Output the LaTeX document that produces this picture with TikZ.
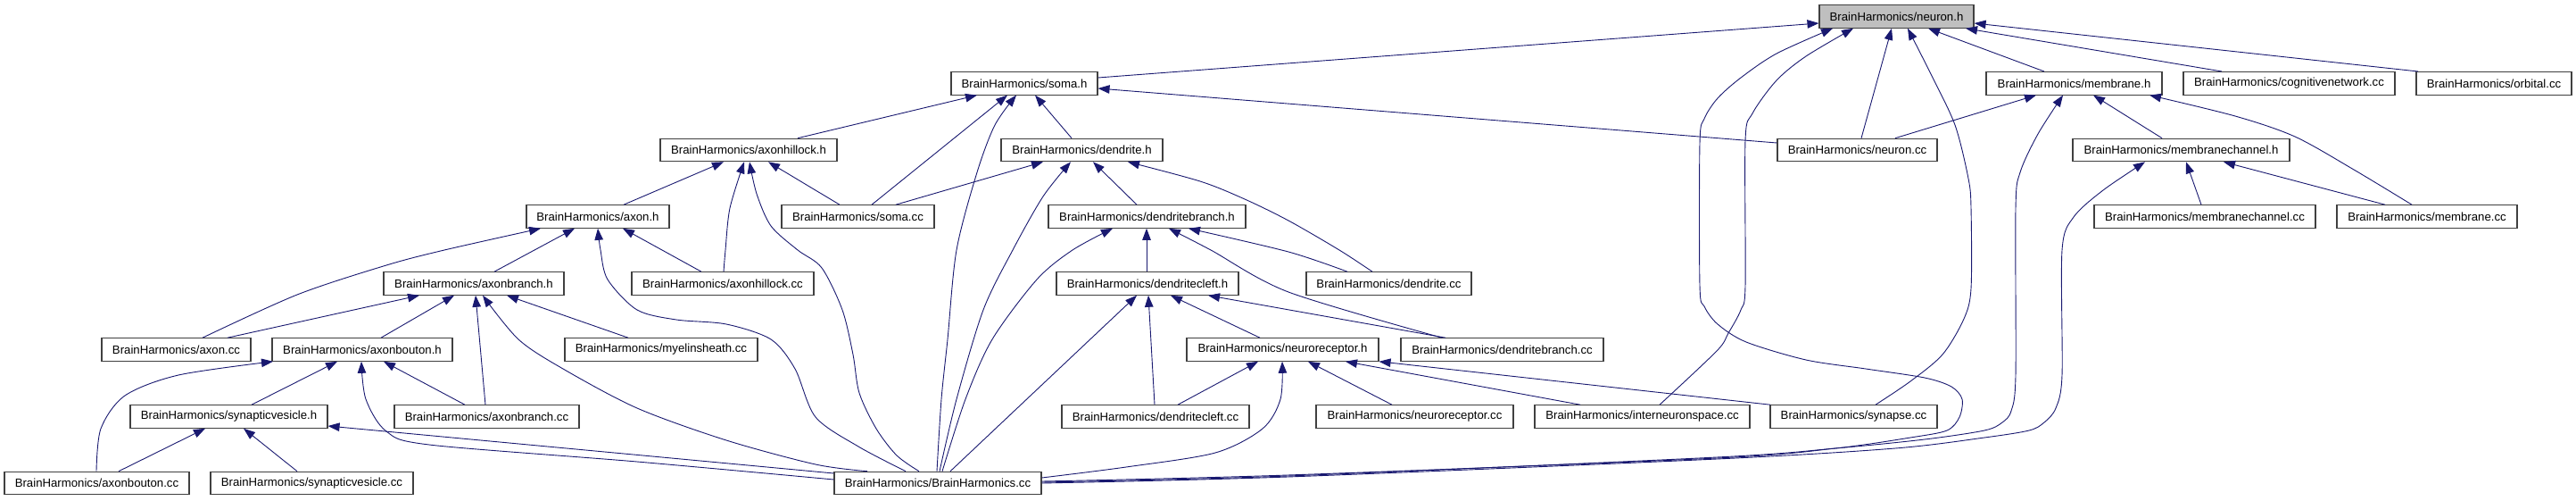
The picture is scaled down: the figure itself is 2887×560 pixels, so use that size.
\documentclass[tikz,border=0pt]{standalone}
\usepackage{fontspec}
\setmainfont{Liberation Sans}
\usetikzlibrary{arrows.meta}
\definecolor{edgec}{HTML}{191970}
\definecolor{boxc}{HTML}{404040}
\definecolor{greyf}{HTML}{BFBFBF}
\newcommand\mkbox[5]{\node[box,minimum width={(#3-#2)*1pt}] (#1) at ({(#2+#3)/2},#4) {BrainHarmonics/#5};}
\begin{document}
\begin{tikzpicture}[x=1pt,y=-1pt,
  box/.style={draw=boxc, line width=1.1pt, fill=white, minimum height=25.5pt, inner sep=0pt,
    font=\fontsize{13.2}{15}\selectfont},
  edge/.style={draw=edgec, line width=0.9pt, -{Triangle[length=13pt,width=9.5pt]}},
  sm/.style={smooth, tension=0.5}]
\useasboundingbox (0,0) rectangle (2887,560);
% row 0
\node[box, fill=greyf, minimum width=173pt] (neuronh) at (2125.5,18.5) {BrainHarmonics/neuron.h};
% row 1
\mkbox{somah}{1066}{1230}{93.3}{soma.h}
\mkbox{membraneh}{2226}{2423}{93.3}{membrane.h}
\mkbox{cognitivecc}{2447}{2684}{93.3}{cognitivenetwork.cc}
\mkbox{orbitalcc}{2708}{2882}{93.3}{orbital.cc}
% row 2
\mkbox{axonhillockh}{740}{938}{168}{axonhillock.h}
\mkbox{dendriteh}{1122}{1303}{168}{dendrite.h}
\mkbox{neuroncc}{1992}{2171}{168}{neuron.cc}
\mkbox{membranechannelh}{2323}{2566}{168}{membranechannel.h}
% row 3
\mkbox{axonh}{590}{750}{242.5}{axon.h}
\mkbox{somacc}{876}{1047}{242.5}{soma.cc}
\mkbox{dendritebranchh}{1175}{1396}{242.5}{dendritebranch.h}
\mkbox{membranechannelcc}{2347}{2595}{242.5}{membranechannel.cc}
\mkbox{membranecc}{2619}{2821}{242.5}{membrane.cc}
% row 4
\mkbox{axonbranchh}{430}{632}{317.5}{axonbranch.h}
\mkbox{axonhillockcc}{708}{912}{317.5}{axonhillock.cc}
\mkbox{dendritecleft}{1184}{1388}{317.5}{dendritecleft.h}
\mkbox{dendritecc}{1464}{1649}{317.5}{dendrite.cc}
% row 5
\mkbox{axoncc}{114}{281}{391.5}{axon.cc}
\mkbox{axonboutonh}{305}{507}{391.5}{axonbouton.h}
\mkbox{myelincc}{633}{849}{391.5}{myelinsheath.cc}
\mkbox{neuroreceptorh}{1330}{1545}{391.5}{neuroreceptor.h}
\mkbox{dendritebranchcc}{1570}{1797}{391.5}{dendritebranch.cc}
% row 6
\mkbox{synapticvesicleh}{146}{367}{466.5}{synapticvesicle.h}
\mkbox{axonbranchcc}{442}{649}{466.5}{axonbranch.cc}
\mkbox{dendritecleftcc}{1190}{1400}{466.5}{dendritecleft.cc}
\mkbox{neuroreceptorcc}{1475}{1696}{466.5}{neuroreceptor.cc}
\mkbox{intercc}{1720}{1961}{466.5}{interneuronspace.cc}
\mkbox{synapsecc}{1984}{2171}{466.5}{synapse.cc}
% row 7
\mkbox{axonboutoncc}{5}{212}{541}{axonbouton.cc}
\mkbox{synapticvesiclecc}{236}{463}{541}{synapticvesicle.cc}
\mkbox{bhcc}{935}{1167}{541}{BrainHarmonics.cc}

% ---- edges into neuron.h
\draw[edge] (somah.east |- 0,87) -- (neuronh.west |- 0,26);
\draw[edge] plot[sm] coordinates {(bhcc.east |- 0,539) (1443,532) (1924,513) (2057,502) (2141,490) (2182,482) (2196,467) (2199,447) (2187,433) (2157,423) (2091,413) (2024,403) (1957,383) (1925,363) (1910,343) (1905,320) (1905,160) (1910,133) (1925,110) (1951,87) (1991,60) (neuronh.south -| 2054,0)};
\draw[edge] plot[sm] coordinates {(intercc.north -| 1860,0) (1924,393) (1937,373) (1951,347) (1956,320) (1956,157) (1964,127) (1991,90) (2024,63) (neuronh.south -| 2077,0)};
\draw[edge] (neuroncc.north -| 2086,0) -- (neuronh.south -| 2120,0);
\draw[edge] plot[sm] coordinates {(synapsecc.north -| 2102,0) (2141,427) (2177,397) (2201,357) (2209,323) (2209,233) (2206,200) (2191,140) (2164,83) (neuronh.south -| 2138,0)};
\draw[edge] (membraneh.north -| 2291,0) -- (neuronh.south -| 2161,0);
\draw[edge] (cognitivecc.north -| 2490,0) -- (neuronh.south -| 2203,0);
\draw[edge] (orbitalcc.north -| 2710,0) -- (neuronh.east |- 0,26);
% ---- soma.h
\draw[edge] (axonhillockh.north -| 894,0) -- (somah.south -| 1095,0);
\draw[edge] (somacc.north -| 977,0) -- (somah.south -| 1129,0);
\draw[edge] plot[sm] coordinates {(bhcc.north -| 1050,0) (1055,447) (1062,380) (1072,280) (1095,193) (1115,140) (somah.south -| 1139,0)};
\draw[edge] (dendriteh.north -| 1201,0) -- (somah.south -| 1160,0);
\draw[edge] (neuroncc.west |- 0,160) -- (somah.east |- 0,99);
% ---- axonhillock.h
\draw[edge] (axonh.north -| 699,0) -- (axonhillockh.south -| 811,0);
\draw[edge] plot[sm] coordinates {(axonhillockcc.north -| 811,0) (813,280) (818,233) (axonhillockh.south -| 834,0)};
\draw[edge] plot[sm] coordinates {(bhcc.north -| 1030,0) (1005,510) (982,480) (963,440) (956,397) (944,347) (921,300) (894,280) (864,253) (848,217) (axonhillockh.south -| 840,0)};
\draw[edge] (somacc.north -| 941,0) -- (axonhillockh.south -| 861,0);
% ---- dendrite.h
\draw[edge] (somacc.north -| 1004,0) -- (dendriteh.south -| 1169,0);
\draw[edge] plot[sm] coordinates {(bhcc.north -| 1053,0) (1072,447) (1102,347) (1135,280) (1169,220) (dendriteh.south -| 1200,0)};
\draw[edge] (dendritebranchh.north -| 1274,0) -- (dendriteh.south -| 1225,0);
\draw[edge] plot[sm] coordinates {(dendritecc.north -| 1538,0) (1501,280) (1444,247) (1395,223) (1345,203) (dendriteh.south -| 1264,0)};
% ---- dendritebranch.h
\draw[edge] plot[sm] coordinates {(bhcc.north -| 1056,0) (1082,447) (1112,380) (1162,313) (1202,280) (dendritebranchh.south -| 1247,0)};
\draw[edge] (dendritecleft.north -| 1285,0) -- (dendritebranchh.south -| 1285,0);
\draw[edge] plot[sm] coordinates {(dendritecc.north -| 1510,0) (1444,282) (dendritebranchh.south -| 1332,0)};
\draw[edge] plot[sm] coordinates {(dendritebranchcc.north -| 1616,0) (1444,327) (1357,280) (dendritebranchh.south -| 1310,0)};
% ---- dendritecleft.h
\draw[edge] (bhcc.north -| 1065,0) -- (dendritecleft.south -| 1274,0);
\draw[edge] (dendritecleftcc.north -| 1294,0) -- (dendritecleft.south -| 1287,0);
\draw[edge] (neuroreceptorh.north -| 1412,0) -- (dendritecleft.south -| 1312,0);
\draw[edge] (dendritebranchcc.north -| 1620,0) -- (dendritecleft.south -| 1354,0);
% ---- neuroreceptor.h
\draw[edge] (dendritecleftcc.north -| 1320,0) -- (neuroreceptorh.south -| 1410,0);
\draw[edge] plot[sm] coordinates {(bhcc.east |- 0,535) (1262,523) (1362,507) (1415,480) (1435,447) (neuroreceptorh.south -| 1437,0)};
\draw[edge] (neuroreceptorcc.north -| 1560,0) -- (neuroreceptorh.south -| 1466,0);
\draw[edge] (intercc.north -| 1771,0) -- (neuroreceptorh.south -| 1508,0);
\draw[edge] (synapsecc.north -| 1984,0) -- (neuroreceptorh.south east);
% ---- axon.h
\draw[edge] plot[sm] coordinates {(axoncc.north -| 227,0) (333,330) (433,297) (498,280) (axonh.south -| 606,0)};
\draw[edge] (axonbranchh.north -| 554,0) -- (axonh.south -| 644,0);
\draw[edge] plot[sm] coordinates {(bhcc.north -| 1015,0) (962,500) (914,467) (891,413) (864,380) (814,363) (758,358) (714,347) (681,313) (673,280) (axonh.south -| 670,0)};
\draw[edge] (axonhillockcc.north -| 786,0) -- (axonh.south -| 698,0);
% ---- axonbranch.h
\draw[edge] (axoncc.north -| 255,0) -- (axonbranchh.south -| 470,0);
\draw[edge] (axonboutonh.north -| 427,0) -- (axonbranchh.south -| 509,0);
\draw[edge] (axonbranchcc.north -| 544,0) -- (axonbranchh.south -| 533,0);
\draw[edge] plot[sm] coordinates {(bhcc.north -| 972,0) (914,520) (814,493) (714,457) (631,413) (581,380) (axonbranchh.south -| 541,0)};
\draw[edge] (myelincc.north -| 704,0) -- (axonbranchh.south -| 568,0);
% ---- axonbouton.h
\draw[edge] plot[sm] coordinates {(axonboutoncc.north -| 108,0) (113,480) (140,443) (200,420) (axonboutonh.south -| 306,0)};
\draw[edge] (synapticvesicleh.north -| 282,0) -- (axonboutonh.south -| 378,0);
\draw[edge] plot[sm] coordinates {(bhcc.west |- 0,537) (714,517) (481,498) (433,483) (410,447) (axonboutonh.south -| 405,0)};
\draw[edge] (axonbranchcc.north -| 521,0) -- (axonboutonh.south -| 430,0);
% ---- synapticvesicle.h
\draw[edge] (axonboutoncc.north -| 133,0) -- (synapticvesicleh.south -| 230,0);
\draw[edge] (synapticvesiclecc.north -| 333,0) -- (synapticvesicleh.south -| 273,0);
\draw[edge] (bhcc.west |- 0,530) -- (synapticvesicleh.east |- 0,477);
% ---- membrane.h
\draw[edge] (neuroncc.north -| 2124,0) -- (membraneh.south -| 2282,0);
\draw[edge] (membranechannelh.north -| 2423,0) -- (membraneh.south -| 2346,0);
\draw[edge] plot[sm] coordinates {(membranecc.north -| 2703,0) (2638,190) (2572,153) (2505,130) (membraneh.south -| 2409,0)};
\draw[edge] plot[sm] coordinates {(bhcc.east |- 0,540) (1443,533) (1924,512) (2057,502) (2157,492) (2224,482) (2244,473) (2254,460) (2259,420) (2259,233) (2264,193) (2284,150) (membraneh.south -| 2312,0)};
% ---- membranechannel.h
\draw[edge] (membranechannelcc.north -| 2467,0) -- (membranechannelh.south -| 2450,0);
\draw[edge] (membranecc.north -| 2673,0) -- (membranechannelh.south -| 2492,0);
\draw[edge] plot[sm] coordinates {(bhcc.east |- 0,541) (1443,534) (1924,514) (2124,502) (2224,490) (2274,482) (2291,473) (2304,457) (2311,420) (2311,280) (2324,243) (2357,213) (membranechannelh.south -| 2404,0)};
\end{tikzpicture}
\end{document}
